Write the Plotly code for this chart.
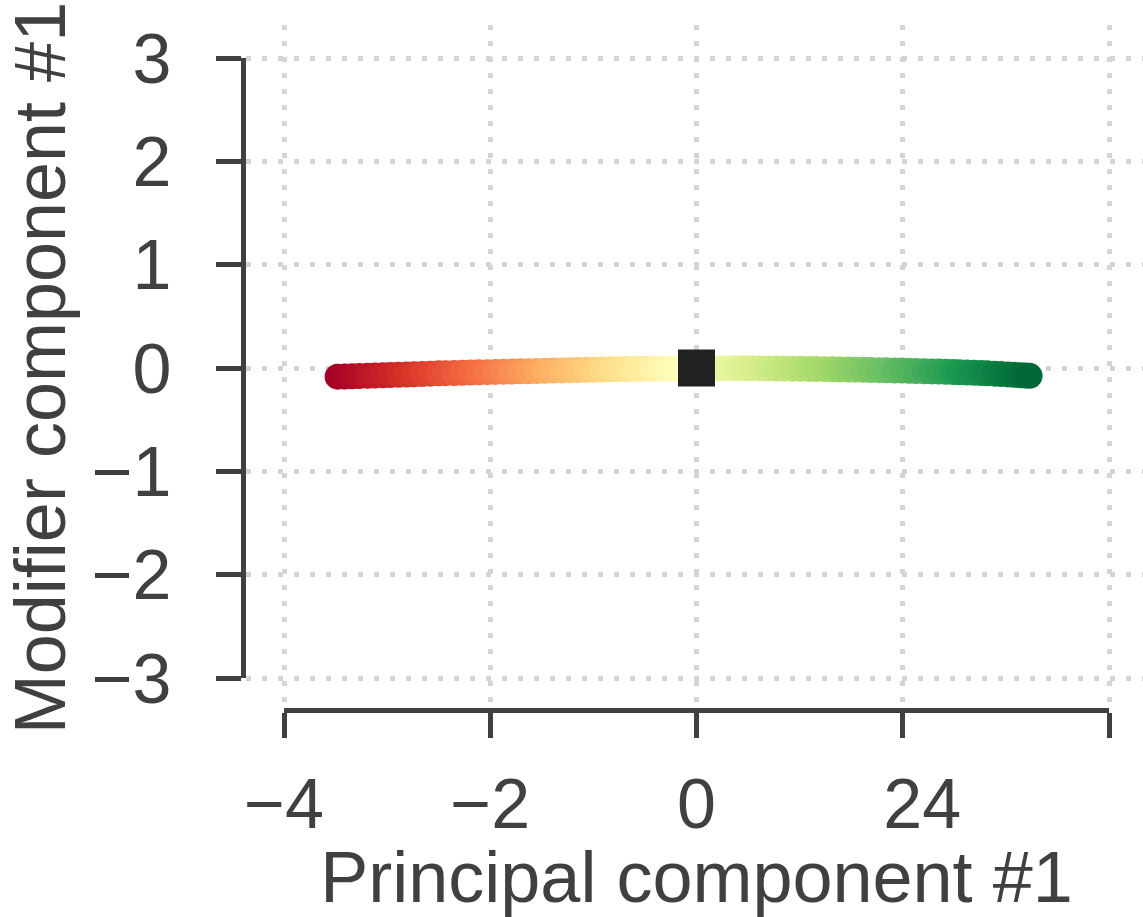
import plotly.graph_objects as go

# Trajectory along the first principal component, with the modifier component
pc1 = [-3.48, -3.41, -3.34, -3.27, -3.19, -3.12, -3.04, -2.97, -2.89, -2.81,
       -2.74, -2.66, -2.58, -2.50, -2.43, -2.35, -2.27, -2.19, -2.11, -2.03,
       -1.95, -1.87, -1.79, -1.71, -1.63, -1.55, -1.47, -1.39, -1.31, -1.23,
       -1.15, -1.07, -0.99, -0.91, -0.83, -0.75, -0.67, -0.59, -0.51, -0.43,
       -0.35, -0.27, -0.19, -0.11, -0.03, 0.05, 0.13, 0.21, 0.29, 0.37,
       0.45, 0.53, 0.61, 0.69, 0.77, 0.85, 0.93, 1.01, 1.09, 1.16,
       1.24, 1.32, 1.39, 1.47, 1.54, 1.62, 1.69, 1.77, 1.84, 1.92,
       1.99, 2.06, 2.13, 2.21, 2.28, 2.35, 2.42, 2.49, 2.55, 2.62,
       2.69, 2.76, 2.82, 2.89, 2.95, 3.02, 3.08, 3.14, 3.19, 3.23]
mod1 = [-0.084, -0.082, -0.080, -0.077, -0.075, -0.073, -0.070, -0.068, -0.065, -0.063,
        -0.060, -0.058, -0.055, -0.052, -0.050, -0.048, -0.046, -0.044, -0.042, -0.040,
        -0.038, -0.036, -0.034, -0.032, -0.031, -0.029, -0.027, -0.025, -0.023, -0.022,
        -0.020, -0.018, -0.017, -0.015, -0.013, -0.012, -0.010, -0.009, -0.008, -0.007,
        -0.006, -0.005, -0.004, -0.003, -0.003, -0.002, -0.002, -0.002, -0.002, -0.003,
        -0.003, -0.003, -0.004, -0.004, -0.005, -0.006, -0.007, -0.008, -0.009, -0.010,
        -0.011, -0.012, -0.014, -0.015, -0.016, -0.018, -0.019, -0.021, -0.022, -0.024,
        -0.025, -0.027, -0.029, -0.031, -0.033, -0.035, -0.037, -0.039, -0.041, -0.044,
        -0.046, -0.049, -0.052, -0.055, -0.058, -0.062, -0.065, -0.069, -0.072, -0.076]

# Reference (origin) point
origin_x = [0.0]
origin_y = [0.0]

x_ticks = [-4, -2, 0, 2, 4]
x_tick_text = ["\u22124", "\u22122", "0", "\u00a0\u00a024", ""]
y_ticks = [-3, -2, -1, 0, 1, 2, 3]
y_tick_text = ["\u22123", "\u22122", "\u22121", "0", "1", "2", "3"]

W, H = 1143, 917
INK = "#404040"
GRID = "#d4d4d4"
FONT = "Liberation Sans, Arial, Helvetica, sans-serif"

fig = go.Figure()

fig.add_trace(go.Scatter(
    x=pc1, y=mod1, mode="markers",
    marker=dict(size=26, color=pc1, colorscale="RdYlGn",
                cmin=min(pc1), cmax=max(pc1), line=dict(width=0)),
    showlegend=False, hoverinfo="skip",
))
fig.add_trace(go.Scatter(
    x=origin_x, y=origin_y, mode="markers",
    marker=dict(size=37, symbol="square", color="#222222", line=dict(width=0)),
    showlegend=False, hoverinfo="skip",
))
# empty trace that carries the offset spine axes
fig.add_trace(go.Scatter(x=[], y=[], xaxis="x2", yaxis="y2",
                         showlegend=False, hoverinfo="skip"))

# pixel geometry of the data area and the trimmed spines
ax_left, ax_right, ax_top, ax_bottom = 246, 1143, 25, 706
sx0, sx1, sx_y = 284, 1109, 709.5      # x spine: -4 .. 4
sy0, sy1, sy_x = 58, 678, 242.5        # y spine: 3 .. -3
ppx = (sx1 - sx0) / 8.0
ppy = (sy1 - sy0) / 6.0

grid_x_range = [-4 + (ax_left - sx0) / ppx, -4 + (ax_right - sx0) / ppx]
grid_y_range = [3 - (ax_bottom - sy0) / ppy, 3 - (ax_top - sy0) / ppy]

common_grid = dict(showgrid=True, gridcolor=GRID, gridwidth=5, griddash="5px,11px",
                   zeroline=False, showline=False, showticklabels=False, ticks="",
                   automargin=False)

fig.update_layout(
    width=W, height=H,
    margin=dict(l=0, r=0, t=0, b=0, autoexpand=False),
    paper_bgcolor="white", plot_bgcolor="rgba(0,0,0,0)",
    font=dict(family=FONT, color=INK, size=70),
    xaxis=dict(domain=[ax_left / W, ax_right / W], range=grid_x_range,
               tickvals=x_ticks, **common_grid),
    yaxis=dict(domain=[1 - ax_bottom / H, 1 - ax_top / H], range=grid_y_range,
               tickvals=y_ticks, **common_grid),
    xaxis2=dict(domain=[sx0 / W, sx1 / W], range=[-4, 4], anchor="free",
                position=1 - sx_y / H, automargin=False,
                showline=True, linewidth=5, linecolor=INK,
                ticks="outside", ticklen=25, tickwidth=5, tickcolor=INK,
                tickvals=x_ticks, ticktext=x_tick_text,
                tickfont=dict(size=70, color=INK), ticklabelstandoff=6,
                showgrid=False, zeroline=False,
                title=dict(text="Principal component #1", standoff=22,
                           font=dict(size=72, color=INK))),
    yaxis2=dict(domain=[1 - sy1 / H, 1 - sy0 / H], range=[-3, 3], anchor="free",
                position=sy_x / W, automargin=False,
                showline=True, linewidth=5, linecolor=INK,
                ticks="outside", ticklen=25, tickwidth=5, tickcolor=INK,
                tickvals=y_ticks, ticktext=y_tick_text,
                tickfont=dict(size=70, color=INK), ticklabelstandoff=30,
                showgrid=False, zeroline=False,
                title=dict(text="Modifier component #1", standoff=4,
                           font=dict(size=72, color=INK))),
)

fig.write_html("out.html")
